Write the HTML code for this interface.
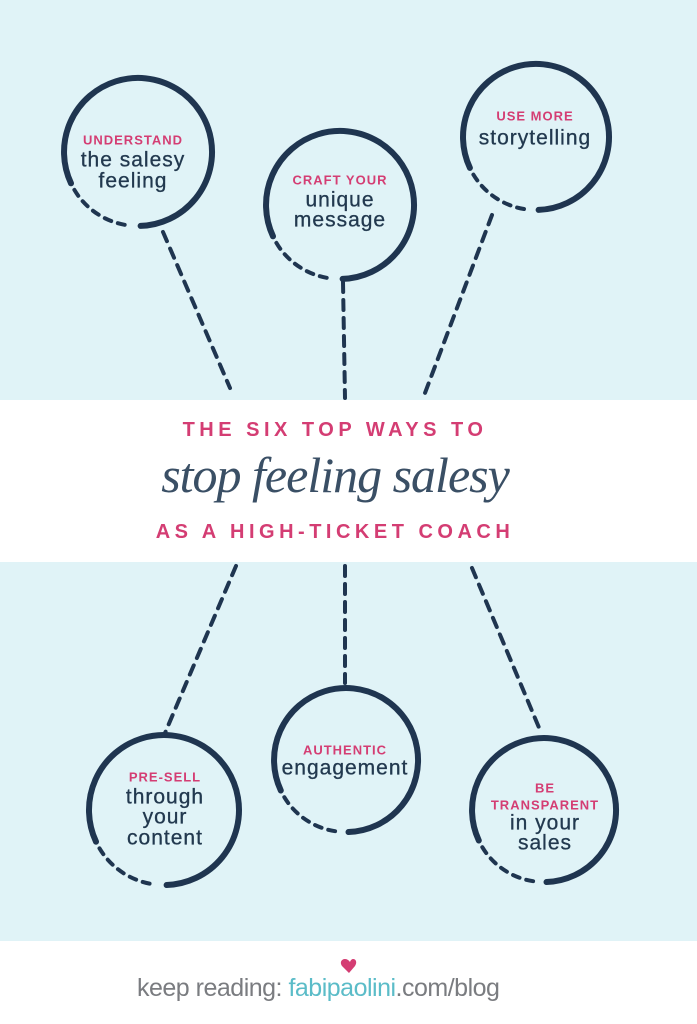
<!DOCTYPE html>
<html><head><meta charset="utf-8"><style>
html,body{margin:0;padding:0;background:#fff}
svg{display:block}
.p{font-family:"Liberation Sans",sans-serif;font-weight:bold;fill:#d43d73;font-size:13px;letter-spacing:1px;text-anchor:middle;dominant-baseline:central}
.d{font-family:"Liberation Sans",sans-serif;fill:#22394f;font-size:21px;letter-spacing:1px;text-anchor:middle;dominant-baseline:central;stroke:#22394f;stroke-width:0.3}
.s{fill:none;stroke:#1f3550;stroke-width:6;stroke-linecap:round}
.k{fill:none;stroke:#1f3550;stroke-width:4;stroke-dasharray:7 7;stroke-linecap:round}
.l{stroke:#1f3550;stroke-width:4;stroke-dasharray:10 8;stroke-linecap:round}
</style></head><body>
<svg width="697" height="1024" viewBox="0 0 697 1024" xmlns="http://www.w3.org/2000/svg">
<rect width="697" height="1024" fill="#e0f3f7"/>
<rect y="400" width="697" height="162" fill="#fff"/>
<rect y="941" width="697" height="83" fill="#fff"/>
<g>
<line class="l" x1="163" y1="232" x2="230" y2="388"/>
<line class="l" x1="343" y1="282" x2="345" y2="398"/>
<line class="l" x1="492" y1="215" x2="425" y2="393"/>
<line class="l" x1="236" y1="566" x2="165" y2="733"/>
<line class="l" x1="345" y1="566" x2="345" y2="683"/>
<line class="l" x1="472" y1="568" x2="540" y2="730"/>
</g>
<path class="s" d="M140.6 225.9 A74 74 0 1 0 71.0 183.3"/>
<path class="k" d="M68.4 177.3 A74 74 0 0 0 127.7 225.3"/>
<path class="s" d="M342.6 278.9 A74 74 0 1 0 273.0 236.3"/>
<path class="k" d="M270.4 230.3 A74 74 0 0 0 329.7 278.3"/>
<path class="s" d="M538.6 209.9 A73 73 0 1 0 469.9 167.9"/>
<path class="k" d="M467.4 162.0 A73 73 0 0 0 525.9 209.3"/>
<path class="s" d="M166.6 885.0 A75 75 0 1 0 96.0 841.7"/>
<path class="k" d="M93.5 835.7 A75 75 0 0 0 153.6 884.3"/>
<path class="s" d="M348.5 832.0 A72 72 0 1 0 280.8 790.5"/>
<path class="k" d="M278.3 784.6 A72 72 0 0 0 336.0 831.3"/>
<path class="s" d="M546.5 882.0 A72 72 0 1 0 478.8 840.5"/>
<path class="k" d="M476.3 834.6 A72 72 0 0 0 534.0 881.3"/>

<text class="p" x="133" y="140">UNDERSTAND</text>
<text class="d" x="133" y="160">the salesy</text>
<text class="d" x="133" y="181">feeling</text>

<text class="p" x="340" y="180">CRAFT YOUR</text>
<text class="d" x="340" y="200">unique</text>
<text class="d" x="340" y="220">message</text>

<text class="p" x="535" y="116">USE MORE</text>
<text class="d" x="535" y="138">storytelling</text>

<text class="p" x="165" y="777">PRE-SELL</text>
<text class="d" x="165" y="797">through</text>
<text class="d" x="165" y="817">your</text>
<text class="d" x="165" y="838">content</text>

<text class="p" x="345" y="750">AUTHENTIC</text>
<text class="d" x="345" y="768">engagement</text>

<text class="p" x="545" y="788">BE</text>
<text class="p" x="545" y="805">TRANSPARENT</text>
<text class="d" x="545" y="823">in your</text>
<text class="d" x="545" y="843">sales</text>

<text x="335" y="436" text-anchor="middle" font-family="Liberation Sans,sans-serif" font-weight="bold" font-size="20" letter-spacing="4.5" fill="#d43d73">THE SIX TOP WAYS TO</text>
<text x="335" y="492" text-anchor="middle" font-family="Liberation Serif,serif" font-style="italic" font-size="50" fill="#3a4f65" letter-spacing="-1">stop feeling salesy</text>
<text x="335" y="538" text-anchor="middle" font-family="Liberation Sans,sans-serif" font-weight="bold" font-size="20" letter-spacing="4.5" fill="#d43d73">AS A HIGH-TICKET COACH</text>

<text x="137" y="996" font-family="Liberation Sans,sans-serif" font-size="25" fill="#7a7c80" letter-spacing="-0.5">keep reading: <tspan fill="#5bbcc8">fabipaolini</tspan>.com/blog</text>
<path d="M350 962 c-4 -6 -12 -2 -8 4 l7 7 l6 -7 c4 -6 -3 -10 -5 -4z" fill="#d43d73"/>
</svg>
</body></html>
